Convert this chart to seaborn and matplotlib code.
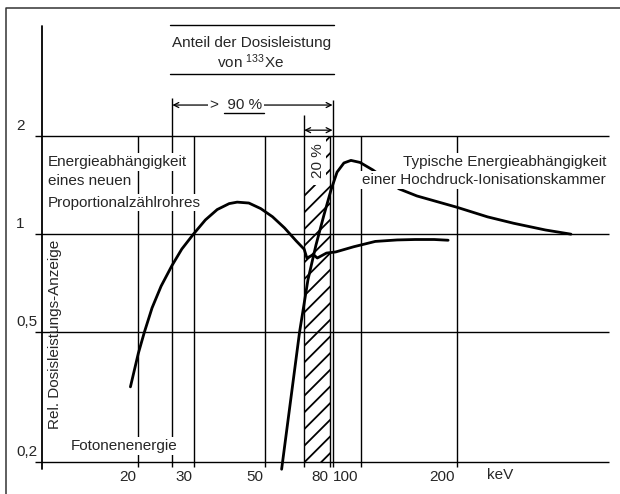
import matplotlib
matplotlib.use("Agg")
import matplotlib.pyplot as plt
from matplotlib.patches import Rectangle
import pandas as pd
import seaborn as sns

# Energy response of two dose-rate instruments (log-log)
energy_counter = [18.9, 20.0, 20.9, 22.1, 23.6, 25.5, 27.4, 29.8, 32.5, 35.4, 38.6,
                  40.9, 44.5, 48.5, 52.8, 57.6, 62.7, 66.4, 67.7, 71.0, 73.0, 78.0,
                  83.4, 95.0, 111.0, 130.0, 148.0, 170.0, 188.0]
response_counter = [0.34, 0.43, 0.50, 0.594, 0.693, 0.80, 0.90, 1.00, 1.106, 1.19, 1.241,
                    1.254, 1.246, 1.198, 1.131, 1.045, 0.953, 0.899, 0.845, 0.865, 0.845,
                    0.875, 0.882, 0.915, 0.95, 0.96, 0.963, 0.963, 0.958]

energy_chamber = [56.4, 64.2, 68.2, 72.3, 76.6, 80.6, 84.2, 88.5, 93.1, 99.4, 109.2,
                  120.0, 131.9, 150.0, 200.0, 250.0, 302.0, 380.0, 457.0]
response_chamber = [0.19, 0.50, 0.723, 0.926, 1.145, 1.366, 1.55, 1.654, 1.684, 1.66,
                    1.573, 1.47, 1.377, 1.31, 1.21, 1.13, 1.08, 1.03, 1.00]

x_ticks = [20, 30, 50, 80, 100, 200]
x_tick_labels = ["20", "30", "50", "80", "100", "200"]
y_ticks = [0.2, 0.5, 1, 2]
y_tick_labels = ["0,2", "0,5", "1", "2"]

xe_band = (66.4, 80.0)     # 20 % share of the 133Xe dose rate
xe_range = (25.6, 81.5)    # > 90 % share

sns.set_theme(style="white")
plt.rcParams["font.family"] = ["Liberation Sans", "DejaVu Sans"]
plt.rcParams["hatch.linewidth"] = 1.3
FS = 11

fig = plt.figure(figsize=(6.2, 4.94), dpi=100)
ax = fig.add_axes([0, 0, 1, 1])
ax.set_xscale("log")
ax.set_yscale("log")
ax.axis("off")

ink = "black"
grid_kw = dict(color=ink, lw=1.0, solid_capstyle="butt", zorder=3)

# outer frame
ax.plot([7.68, 7.68, 700], [0.1, 4.94, 4.94], color="#333333", lw=1.1, zorder=3)

# horizontal grid
for v in y_ticks:
    ax.plot([9.5, 600], [v, v], **grid_kw)
# vertical grid
for t in x_ticks:
    ax.plot([t, t], [0.193, 2.0], **grid_kw)
# marker lines for the 133Xe ranges
ax.plot([xe_range[0]] * 2, [0.193, 2.62], **grid_kw)
ax.plot([xe_band[0]] * 2, [0.193, 2.32], **grid_kw)
ax.plot([xe_range[1]] * 2, [0.193, 2.58], **grid_kw)
# left axis
ax.plot([10, 10], [0.19, 4.35], color=ink, lw=1.3, zorder=3)

# hatched band
ax.add_patch(Rectangle((xe_band[0], 0.2), xe_band[1] - xe_band[0], 2.0 - 0.2,
                       fc="none", ec=ink, hatch="//", lw=0, zorder=1))
ax.add_patch(Rectangle((xe_band[0], 1.415), 77.6 - xe_band[0], 2.0 - 1.415,
                       fc="white", ec="none", zorder=2))
ax.text(73.5, 1.676, "20 %", rotation=90, ha="center", va="center",
        fontsize=FS, zorder=5)

# response curves
df_counter = pd.DataFrame({"energy": energy_counter, "response": response_counter})
df_chamber = pd.DataFrame({"energy": energy_chamber, "response": response_chamber})
sns.lineplot(data=df_counter, x="energy", y="response", sort=False, estimator=None,
             color=ink, linewidth=2.0, ax=ax, zorder=4)
sns.lineplot(data=df_chamber, x="energy", y="response", sort=False, estimator=None,
             color=ink, linewidth=2.0, ax=ax, zorder=4)
ax.set_xlim(7.36, 651.5)
ax.set_ylim(0.1595, 5.23)

# tick labels
for t, lab in zip(x_ticks, x_tick_labels):
    ax.annotate(lab, xy=(t, 0.2), xytext=(-1.5, -11), textcoords="offset points",
                ha="right", va="center", fontsize=FS)
ax.text(249.5, 0.182, "keV", ha="left", va="center", fontsize=FS)
for v, lab in zip(y_ticks, y_tick_labels):
    ax.annotate(lab, xy=(8.26, v), xytext=(0, 7.2), textcoords="offset points",
                ha="left", va="center", fontsize=FS)

ax.text(10.95, 0.494, "Rel. Dosisleistungs-Anzeige", rotation=90,
        ha="center", va="center", fontsize=FS)

box = dict(boxstyle="square,pad=0.12", fc="white", ec="none")
ax.text(12.24, 0.224, "Fotonenenergie", ha="left", va="center", fontsize=FS,
        bbox=box, zorder=6)
for y, line in zip([1.665, 1.455, 1.25],
                   ["Energieabhängigkeit", "eines neuen", "Proportionalzählrohres"]):
    ax.text(10.4, y, line, ha="left", va="center", fontsize=FS, bbox=box, zorder=6)
for y, line in zip([1.665, 1.466],
                   ["Typische Energieabhängigkeit", "einer Hochdruck-Ionisationskammer"]):
    ax.text(588.8, y, line, ha="right", va="center", fontsize=FS, bbox=box, zorder=6)

# header block
ax.plot([25.2, 82.3], [4.38, 4.38], color=ink, lw=1.0)
ax.plot([25.2, 82.3], [3.10, 3.10], color=ink, lw=1.0)
ax.text(45.3, 3.86, "Anteil der Dosisleistung", ha="center", va="center", fontsize=FS)
ax.text(45.0, 3.39, r"von $\mathregular{^{133}}$Xe", ha="center", va="center", fontsize=FS)

# range arrows
arrow_kw = dict(arrowstyle="<->", lw=0.9, color=ink, shrinkA=0, shrinkB=0,
                mutation_scale=9)
ax.annotate("", xy=(xe_range[0], 2.49), xytext=(xe_range[1], 2.49),
            arrowprops=arrow_kw, zorder=4)
ax.text(33.6, 2.49, ">  90 %", ha="left", va="center", fontsize=FS,
        bbox=dict(boxstyle="square,pad=0.1", fc="white", ec="none"), zorder=6)
ax.plot([37.3, 49.5], [2.35, 2.35], color=ink, lw=1.0, zorder=7)
ax.annotate("", xy=(xe_band[0], 2.085), xytext=(xe_range[1], 2.085),
            arrowprops=arrow_kw, zorder=4)

fig.savefig("out.png", dpi=100, facecolor="white")
